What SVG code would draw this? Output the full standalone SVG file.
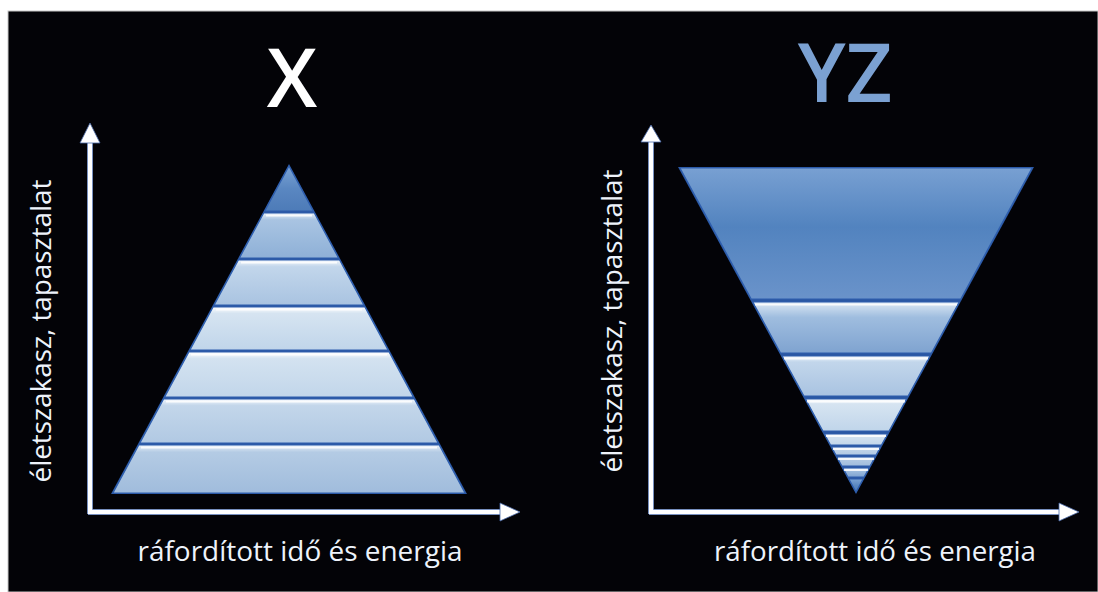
<svg xmlns="http://www.w3.org/2000/svg" width="1098" height="592" viewBox="0 0 1098 592">
<style>
.title{font-family:"Open Sans","Liberation Sans",sans-serif;font-weight:600;font-size:81px;text-anchor:middle}
.lbl{font-family:"Open Sans","Liberation Sans",sans-serif;font-size:28px;fill:#eef3fb;text-anchor:middle}
.axis{stroke:#ffffff;stroke-width:4.5;fill:none}
.axisEdge{stroke:#4a6aa8;stroke-width:6;fill:none}
.head{fill:#ffffff;stroke:#4a6aa8;stroke-width:0.8}
.lay{stroke:#2f5fae;stroke-width:1.2;stroke-linejoin:round}
.hl{stroke:#ffffff;stroke-width:2;opacity:0.85}
.base{fill:#2a57a3}
</style>
<defs>
<linearGradient id="gDark" x1="0" y1="0" x2="0" y2="1"><stop offset="0" stop-color="#7ba3d4"/><stop offset="0.5" stop-color="#5a87c1"/><stop offset="1" stop-color="#4d7bb8"/></linearGradient>
<linearGradient id="g2" x1="0" y1="0" x2="0" y2="1"><stop offset="0" stop-color="#e9f1f9"/><stop offset="0.15" stop-color="#a9c4e2"/><stop offset="1" stop-color="#8eb0d7"/></linearGradient>
<linearGradient id="g3" x1="0" y1="0" x2="0" y2="1"><stop offset="0" stop-color="#f2f7fc"/><stop offset="0.15" stop-color="#c2d6eb"/><stop offset="1" stop-color="#a9c3e1"/></linearGradient>
<linearGradient id="g4" x1="0" y1="0" x2="0" y2="1"><stop offset="0" stop-color="#ffffff"/><stop offset="0.15" stop-color="#d6e4f1"/><stop offset="1" stop-color="#c0d5ea"/></linearGradient>
<linearGradient id="g5" x1="0" y1="0" x2="0" y2="1"><stop offset="0" stop-color="#ffffff"/><stop offset="0.15" stop-color="#d3e2f0"/><stop offset="1" stop-color="#c2d6ea"/></linearGradient>
<linearGradient id="g6" x1="0" y1="0" x2="0" y2="1"><stop offset="0" stop-color="#f2f7fc"/><stop offset="0.15" stop-color="#c3d6ea"/><stop offset="1" stop-color="#b1c9e3"/></linearGradient>
<linearGradient id="g7" x1="0" y1="0" x2="0" y2="1"><stop offset="0" stop-color="#e9f1f9"/><stop offset="0.15" stop-color="#b4cbe4"/><stop offset="1" stop-color="#a0bcdc"/></linearGradient>
<linearGradient id="gS1" x1="0" y1="0" x2="0" y2="1"><stop offset="0" stop-color="#dce8f4"/><stop offset="0.3" stop-color="#9fbddf"/><stop offset="1" stop-color="#7fa3d0"/></linearGradient>
<linearGradient id="gS2" x1="0" y1="0" x2="0" y2="1"><stop offset="0" stop-color="#78a0d2"/><stop offset="0.45" stop-color="#5283bf"/><stop offset="1" stop-color="#6a93ca"/></linearGradient>
</defs>
<rect x="0" y="0" width="1098" height="592" fill="#ffffff"/>
<rect x="8" y="11" width="1090" height="581" fill="#030307" stroke="#c8c8c8" stroke-width="1"/>

<g id="title-x"><text class="title" x="292" y="107" fill="#ffffff">X</text></g>
<g id="title-yz"><text class="title" x="845" y="102" fill="#7ba1d2" font-weight="700">YZ</text></g>

<g id="connectors">
<line class="axisEdge" x1="90" y1="142" x2="90" y2="514"/>
<line class="axisEdge" x1="88" y1="512" x2="501" y2="512"/>
<line class="axis" x1="90" y1="142" x2="90" y2="514"/>
<line class="axis" x1="88" y1="512" x2="501" y2="512"/>
<polygon class="head" points="90,123 100,143 80,143"/>
<polygon class="head" points="520,512 500,503 500,521"/>
<line class="axisEdge" x1="651" y1="140" x2="651" y2="514"/>
<line class="axisEdge" x1="649" y1="512" x2="1060" y2="512"/>
<line class="axis" x1="651" y1="140" x2="651" y2="514"/>
<line class="axis" x1="649" y1="512" x2="1060" y2="512"/>
<polygon class="head" points="651,125 661,142 641,142"/>
<polygon class="head" points="1079,512 1059,503 1059,521"/>
</g>

<g id="pyramid-x">
<polygon class="base" points="289,164 467,494 111,494"/>
<polygon class="lay" fill="url(#gDark)" points="289,166 313.2,211 264.8,211"/>
<polygon class="lay" fill="url(#g2)" points="263.7,213 314.3,213 338.5,258 239.5,258"/>
<polygon class="lay" fill="url(#g3)" points="238.4,260 339.6,260 363.8,305 214.2,305"/>
<polygon class="lay" fill="url(#g4)" points="213.1,307 364.9,307 388,350 190,350"/>
<polygon class="lay" fill="url(#g5)" points="188.9,352 389.1,352 413.3,397 164.7,397"/>
<polygon class="lay" fill="url(#g6)" points="163.6,399 414.4,399 438.1,443 139.9,443"/>
<polygon class="lay" fill="url(#g7)" points="138.8,445 439.2,445 465,493 113,493"/>
<line class="hl" x1="266" y1="215.5" x2="312" y2="215.5"/>
<line class="hl" x1="241" y1="262.5" x2="337" y2="262.5"/>
<line class="hl" x1="216" y1="309.5" x2="362" y2="309.5"/>
<line class="hl" x1="191" y1="354.5" x2="387" y2="354.5"/>
<line class="hl" x1="166" y1="401.5" x2="412" y2="401.5"/>
<line class="hl" x1="141" y1="447.5" x2="437" y2="447.5"/>
</g>

<g id="pyramid-yz">
<polygon class="base" points="678,167 1034,167 856,494"/>
<polygon class="lay" fill="url(#gS2)" points="680,168 1032,168 960.8,299 751.2,299"/>
<polygon class="lay" fill="url(#gS1)" points="752.8,302 959.2,302 931.5,353 780.5,353"/>
<polygon class="lay" fill="url(#g3)" points="782.1,356 929.9,356 908.1,396 803.9,396"/>
<polygon class="lay" fill="url(#g4)" points="805.5,399 906.5,399 889.1,431 822.9,431"/>
<polygon class="lay" fill="url(#g5)" points="824.5,434 887.5,434 881.5,445 830.5,445"/>
<polygon class="lay" fill="url(#g6)" points="831.6,447 880.4,447 876.1,455 835.9,455"/>
<polygon class="lay" fill="url(#g7)" points="837,457 875,457 870.1,466 841.9,466"/>
<polygon class="lay" fill="url(#gS1)" points="843,468 869,468 864.1,477 847.9,477"/>
<polygon class="lay" fill="url(#gDark)" points="848.9,479 863.1,479 856,492"/>
<line class="hl" x1="755" y1="304.5" x2="957" y2="304.5"/>
<line class="hl" x1="784" y1="358.5" x2="928" y2="358.5"/>
<line class="hl" x1="807" y1="401.5" x2="905" y2="401.5"/>
<line class="hl" x1="826" y1="436" x2="886" y2="436"/>
<line class="hl" x1="833" y1="449" x2="879" y2="449"/>
<line class="hl" x1="838" y1="459" x2="874" y2="459"/>
<line class="hl" x1="844" y1="470" x2="868" y2="470"/>
</g>

<g id="label-y-left"><text class="lbl" transform="translate(51,331) rotate(-90)" x="0" y="0" textLength="303" lengthAdjust="spacingAndGlyphs">életszakasz, tapasztalat</text></g>
<g id="label-x-left"><text class="lbl" x="300" y="561" textLength="325" lengthAdjust="spacingAndGlyphs">ráfordított idő és energia</text></g>
<g id="label-y-right"><text class="lbl" transform="translate(622,321) rotate(-90)" x="0" y="0" textLength="303" lengthAdjust="spacingAndGlyphs">életszakasz, tapasztalat</text></g>
<g id="label-x-right"><text class="lbl" x="875" y="561" textLength="322" lengthAdjust="spacingAndGlyphs">ráfordított idő és energia</text></g>
</svg>
